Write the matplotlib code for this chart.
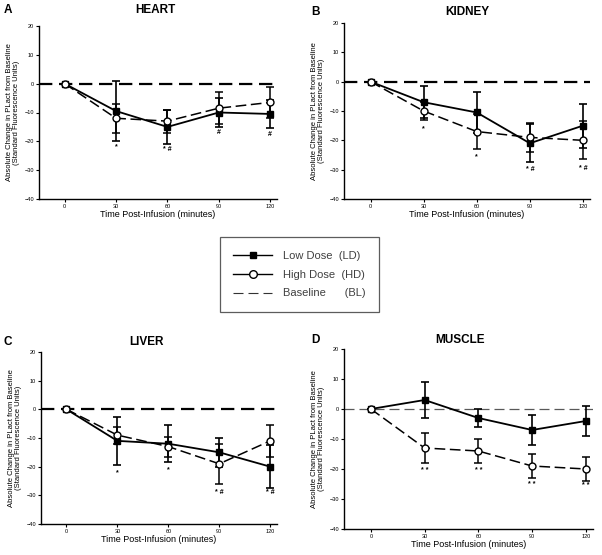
'''
Change in PLact from baseline after infusion, four organs.
'''

import numpy as np
import matplotlib.pyplot as plt
from matplotlib.lines import Line2D

plt.rc('font', **{'family': 'sans-serif', 'sans-serif': ['Liberation Sans', 'DejaVu Sans']})

################################################################
# Data
t = [0, 30, 60, 90, 120]

organs = ['HEART', 'KIDNEY', 'LIVER', 'MUSCLE']
letters = ['A', 'B', 'C', 'D']

heart_ld = [0, -9.5, -15, -10, -10.5]
heart_ld_err = [0, 10.5, 6, 5, 5]
heart_hd = [0, -12, -13, -8.5, -6.5]
heart_hd_err = [0, 5, 4, 5.5, 5.5]
heart_sig = ['', '*', '* #', '#', '#']
heart_sig_y = [0, -22, -23, -17, -17.5]

kidney_ld = [0, -7, -10.5, -21, -15]
kidney_ld_err = [0, 5.5, 7, 6.5, 7.5]
kidney_hd = [0, -10, -17, -19, -20]
kidney_hd_err = [0, 3, 6, 5, 6.5]
kidney_sig = ['', '*', '*', '* #', '* #']
kidney_sig_y = [0, -16, -25.5, -30, -29.5]

liver_ld = [0, -11, -12, -15, -20]
liver_ld_err = [0, 8.5, 6.5, 5, 7.5]
liver_hd = [0, -9, -13, -19, -11]
liver_hd_err = [0, 3, 3.5, 7, 5.5]
liver_sig = ['', '*', '*', '* #', '* #']
liver_sig_y = [0, -22, -21, -29, -29]

muscle_ld = [0, 3, -3, -7, -4]
muscle_ld_err = [0, 6, 3, 5, 5]
muscle_hd = [0, -13, -14, -19, -20]
muscle_hd_err = [0, 5, 4, 4, 4]
muscle_sig = ['', '* *', '* *', '* *', '* *']
muscle_sig_y = [0, -20.5, -20.5, -25, -25.5]

ld = [heart_ld, kidney_ld, liver_ld, muscle_ld]
ld_err = [heart_ld_err, kidney_ld_err, liver_ld_err, muscle_ld_err]
hd = [heart_hd, kidney_hd, liver_hd, muscle_hd]
hd_err = [heart_hd_err, kidney_hd_err, liver_hd_err, muscle_hd_err]
sig = [heart_sig, kidney_sig, liver_sig, muscle_sig]
sig_y = [heart_sig_y, kidney_sig_y, liver_sig_y, muscle_sig_y]

################################################################
# Layout (figure fractions)
W, H = 602., 555.
boxes = [(39, 277, 26, 199), (344, 590, 23, 199),
         (41, 277, 352, 524), (344, 593, 349, 529)]
titles_xy = [(155, 10), (467, 12), (147, 342), (460, 340)]
letters_xy = [(4, 10), (311, 12), (4, 342), (311, 340)]

fig = plt.figure(figsize=(W/100, H/100), dpi=100)

for ii in range(4):
    x0, x1, y0, y1 = boxes[ii]
    ax = fig.add_axes([x0/W, 1-y1/H, (x1-x0)/W, (y1-y0)/H])
    bl_lw = 0.9 if ii == 3 else 1.6
    bl_c = '0.35' if ii == 3 else 'k'
    ax.axhline(0, color=bl_c, ls=(0, (6, 3)) if ii < 3 else (0, (8, 4)), lw=bl_lw, zorder=1)
    ax.errorbar(t, ld[ii], yerr=ld_err[ii], fmt='-s', color='k', mfc='k', ms=4.5,
                lw=1.3, elinewidth=1.2, capsize=2.8, capthick=1.2, zorder=3)
    ax.errorbar(t, hd[ii], yerr=hd_err[ii], fmt='--o', color='k', mfc='white', ms=5,
                lw=1.1, dashes=(7, 3), elinewidth=1.1, capsize=2.8, capthick=1.1, zorder=4)
    for x, s, y in zip(t, sig[ii], sig_y[ii]):
        if s:
            ax.text(x, y, s, ha='center', va='center', fontsize=5, fontweight='bold')
    ax.set_xlim(-15, 124)
    ax.set_ylim(-40, 20)
    ax.set_xticks(t)
    ax.set_yticks([-40, -30, -20, -10, 0, 10, 20])
    ax.tick_params(labelsize=4, length=2, width=0.8, pad=1.5)
    ax.spines['top'].set_visible(False)
    ax.spines['right'].set_visible(False)
    for sp in ['left', 'bottom']:
        ax.spines[sp].set_linewidth(1.0)
    ax.set_xlabel('Time Post-Infusion (minutes)', fontsize=6.5, labelpad=1)
    ax.set_ylabel('Absolute Change in PLact from Baseline\n(Standard Fluorescence Units)',
                  fontsize=5.5, labelpad=3, linespacing=1.0)
    tx, ty = titles_xy[ii]
    fig.text(tx/W, 1-ty/H, organs[ii], ha='center', va='center', fontsize=8.5, fontweight='bold')
    lx, ly = letters_xy[ii]
    fig.text(lx/W, 1-ly/H, letters[ii], ha='left', va='center', fontsize=8.5, fontweight='bold')

# Legend
handles = [Line2D([], [], color='k', marker='s', ms=4.5, lw=1.0),
           Line2D([], [], color='k', marker='o', mfc='white', ms=5.5, lw=1.0),
           Line2D([], [], color='0.2', ls=(0, (9, 4.5)), lw=0.8)]
labels = ['Low Dose  (LD)', 'High Dose  (HD)', 'Baseline      (BL)']
leg = fig.legend(handles, labels, loc='center', bbox_to_anchor=(299.5/W, 1-274.5/H),
                 fontsize=8, frameon=True, fancybox=False, edgecolor='0.2',
                 handlelength=3.5, handletextpad=1.0, borderpad=1.2, labelspacing=0.8)
leg.get_frame().set_linewidth(0.9)
for txt in leg.get_texts():
    txt.set_color('0.25')

plt.savefig('out.png', dpi=100)
